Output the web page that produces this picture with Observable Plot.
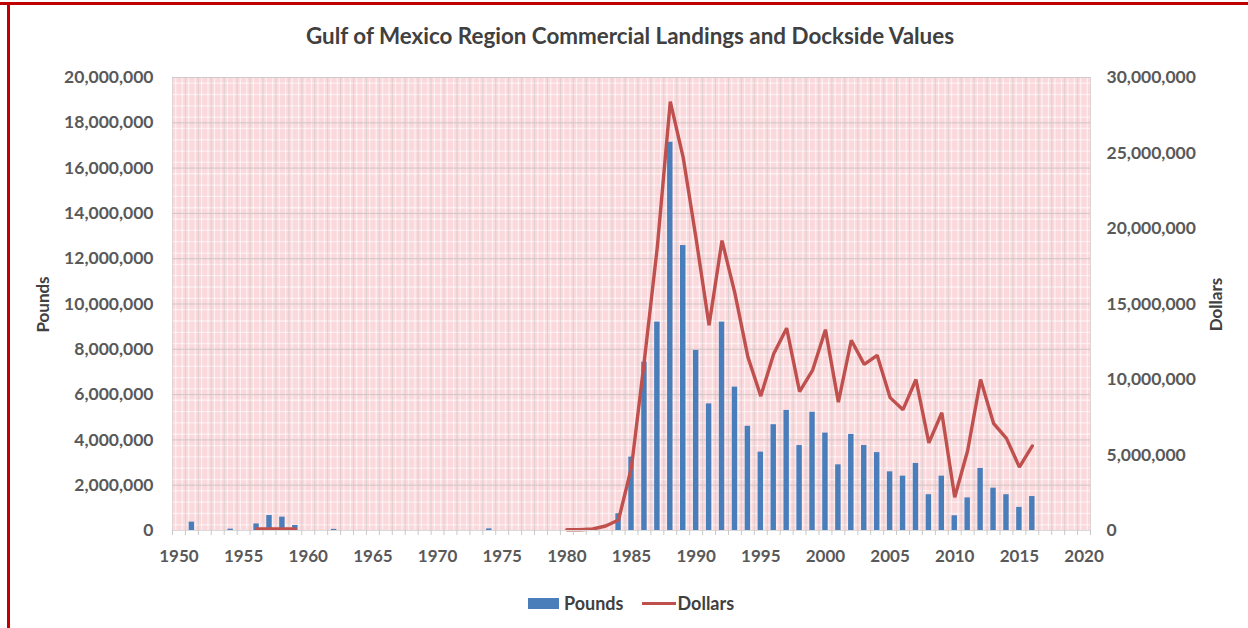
<!DOCTYPE html>
<html>
<head>
<meta charset="utf-8">
<script src="https://cdn.jsdelivr.net/npm/d3@7"></script>
<script src="https://cdn.jsdelivr.net/npm/@observablehq/plot@0.6"></script>
<style>
  html, body { margin: 0; padding: 0; background: #fff; }
  #wrap { position: relative; width: 1248px; height: 628px; overflow: hidden; font-family: Lato, "Open Sans", sans-serif; }
  #topline { position: absolute; left: 0; top: 2px; width: 1248px; height: 3px; background: #c00000; }
  #leftline { position: absolute; left: 7px; top: 2px; width: 3px; height: 626px; background: #c00000; }
  #title { position: absolute; top: 22px; left: 0; width: 1260px; text-align: center; font-weight: 700; font-size: 22.4px; color: #404040; }
  #chart { position: absolute; left: 0; top: 50px; }
  .ytitle { position: absolute; font-weight: 700; font-size: 17px; color: #404040; transform: rotate(-90deg); transform-origin: center; white-space: nowrap; }
  #legend { position: absolute; top: 592px; left: 528px; display: flex; align-items: center; font-weight: 700; font-size: 18px; color: #404040; }
  .sw-bar { width: 31px; height: 11px; background: #4a7ebb; margin-right: 5px; }
  .sw-line { width: 34px; height: 3px; background: #c0504d; margin-left: 18px; margin-right: 2px; }
</style>
</head>
<body>
<div id="wrap">
  <div id="topline"></div>
  <div id="leftline"></div>
  <div id="title">Gulf of Mexico Region Commercial Landings and Dockside Values</div>
  <div id="chart"></div>
  <div class="ytitle" id="ylabL" style="left:14px; top:294px;">Pounds</div>
  <div class="ytitle" id="ylabR" style="left:1189px; top:294px;">Dollars</div>
  <div id="legend"><div class="sw-bar"></div><span>Pounds</span><div class="sw-line"></div><span>Dollars</span></div>
</div>
<script>
// Pounds (bars, left axis)
const poundYears = [1951, 1954, 1956, 1957, 1958, 1959, 1962, 1974,
  1984, 1985, 1986, 1987, 1988, 1989, 1990, 1991, 1992, 1993, 1994, 1995, 1996, 1997, 1998, 1999,
  2000, 2001, 2002, 2003, 2004, 2005, 2006, 2007, 2008, 2009, 2010, 2011, 2012, 2013, 2014, 2015, 2016];
const pounds = [370000, 60000, 290000, 660000, 590000, 220000, 50000, 70000,
  740000, 3240000, 7430000, 9200000, 17140000, 12580000, 7950000, 5590000, 9200000, 6330000, 4600000, 3460000, 4670000, 5300000, 3750000, 5220000,
  4300000, 2900000, 4240000, 3750000, 3440000, 2590000, 2400000, 2960000, 1580000, 2400000, 650000, 1440000, 2740000, 1870000, 1580000, 1020000, 1500000];

// Dollars (line, right axis)
const dollarYears = [1956, 1957, 1958, 1959,
  1980, 1981, 1982, 1983, 1984, 1985, 1986, 1987, 1988, 1989, 1990, 1991, 1992, 1993, 1994, 1995, 1996, 1997, 1998, 1999,
  2000, 2001, 2002, 2003, 2004, 2005, 2006, 2007, 2008, 2009, 2010, 2011, 2012, 2013, 2014, 2015, 2016];
const dollars = [100000, 100000, 100000, 100000,
  50000, 50000, 100000, 300000, 700000, 4200000, 11300000, 18800000, 28400000, 24700000, 19300000, 13600000, 19200000, 15700000, 11500000, 8900000, 11700000, 13400000, 9200000, 10600000,
  13300000, 8500000, 12600000, 11000000, 11600000, 8800000, 8000000, 10000000, 5800000, 7800000, 2200000, 5300000, 10000000, 7100000, 6100000, 4200000, 5600000];

// Axis ticks
const yearTicks = [1950, 1955, 1960, 1965, 1970, 1975, 1980, 1985, 1990, 1995, 2000, 2005, 2010, 2015, 2020];
const poundTicks = [0, 2000000, 4000000, 6000000, 8000000, 10000000, 12000000, 14000000, 16000000, 18000000, 20000000];
const dollarTicks = [0, 5000000, 10000000, 15000000, 20000000, 25000000, 30000000];

const ratio = 30000000 / 20000000; // right axis max / left axis max

const poundData = poundYears.map((year, i) => ({year, value: pounds[i]}));
const dollarData = dollarYears.map((year, i) => ({year, value: dollars[i], seg: year < 1970 ? "early" : "late"}));
const boundaries = d3.range(1949.5, 2021, 1);
const fineX = d3.range(1949.75, 2020.5, 0.5);
const fineY = d3.range(250000, 20000000, 500000);
const fmt = d3.format(",");

const chart = Plot.plot({
  width: 1248,
  height: 520,
  marginLeft: 172,
  marginRight: 158,
  marginTop: 27,
  marginBottom: 40,
  style: {fontFamily: "Lato, 'Open Sans', sans-serif", background: "transparent"},
  x: {type: "linear", domain: [1949.5, 2020.5]},
  y: {domain: [0, 20000000]},
  marks: [
    Plot.frame({fill: "#fad8db", stroke: "none"}),
    Plot.gridX(fineX, {stroke: "#ffffff", strokeOpacity: 0.6, strokeWidth: 1.3}),
    Plot.gridY(fineY, {stroke: "#ffffff", strokeOpacity: 0.6, strokeWidth: 1.3}),
    Plot.gridX(boundaries, {stroke: "#d2cccc", strokeOpacity: 0.7}),
    Plot.gridY(poundTicks, {stroke: "#c9c3c3", strokeOpacity: 0.85}),
    Plot.rectY(poundData, {x1: d => d.year - 0.21, x2: d => d.year + 0.21, y: "value", fill: "#4a7ebb"}),
    Plot.line(dollarData, {x: "year", y: d => d.value / ratio, z: "seg", stroke: "#c0504d", strokeWidth: 3.4, strokeLinejoin: "miter"}),
    Plot.ruleY([0], {stroke: "#d9d9d9"}),
    Plot.axisX({ticks: boundaries, tickSize: 5, tickFormat: () => "", stroke: "#c8c8c8", label: null}),
    Plot.axisX({ticks: yearTicks, tickSize: 0, tickPadding: 19, tickFormat: d => String(d), fontSize: 17, fontWeight: 700, fill: "#595959", label: null}),
    Plot.axisY({ticks: poundTicks, tickSize: 0, tickPadding: 19, tickFormat: fmt, fontSize: 17.5, fontWeight: 700, fill: "#595959", label: null}),
    Plot.axisY({anchor: "right", ticks: dollarTicks.map(d => d / ratio), tickSize: 0, tickPadding: 16, tickFormat: d => fmt(Math.round(d * ratio)), fontSize: 17.5, fontWeight: 700, fill: "#595959", label: null})
  ]
});
document.getElementById("chart").appendChild(chart);
</script>
</body>
</html>
